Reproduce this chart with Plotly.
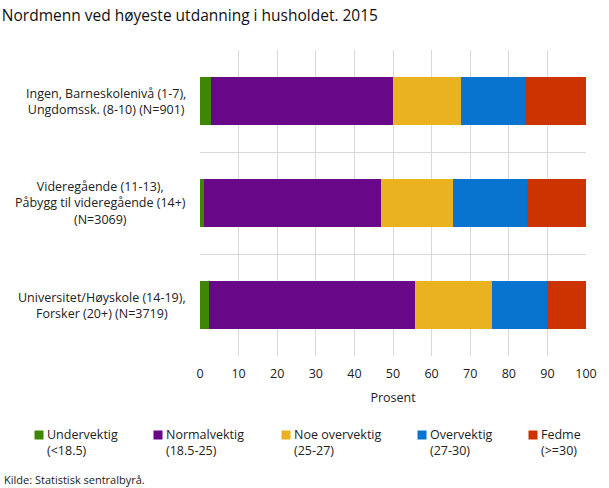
import plotly.graph_objects as go

# Data (prosent), lest av figuren
CATEGORIES = [
    "Ingen, Barneskolenivå (1-7),<br>Ungdomssk. (8-10) (N=901)",
    "Videregående (11-13),<br>Påbygg til videregående (14+)<br>(N=3069)",
    "Universitet/Høyskole (14-19),<br>Forsker (20+) (N=3719)",
]
SERIES = ["Undervektig", "Normalvektig", "Noe overvektig", "Overvektig", "Fedme"]
SERIES_RANGE = ["(&lt;18.5)", "(18.5-25)", "(25-27)", "(27-30)", "(&gt;=30)"]
UNDERVEKTIG = [2.8, 1.0, 2.4]
NORMALVEKTIG = [47.2, 45.9, 53.3]
NOE_OVERVEKTIG = [17.6, 18.6, 19.9]
OVERVEKTIG = [16.7, 19.2, 14.4]
FEDME = [15.7, 15.3, 10.0]
X_TICKS = [0, 10, 20, 30, 40, 50, 60, 70, 80, 90, 100]

COLORS = ["#3d8704", "#680787", "#ebb220", "#0874d0", "#cd3300"]
FONT = "Open Sans, DejaVu Sans, sans-serif"
TXT = "#222"

# plottområdet i piksler (for plassering av forklaring)
W, H = 609, 488
L, R, T, B = 200, 23, 50, 132
PW, PH = W - L - R, H - T - B
LEG_X = [34, 153, 281, 417, 528]   # venstre kant på fargeruten
LEG_Y = 435                         # midten av første linje


def px_x(px):
    return (px - L) / PW


def px_y(py):
    return (H - B - py) / PH


fig = go.Figure()
for name, vals, col in zip(SERIES,
                           [UNDERVEKTIG, NORMALVEKTIG, NOE_OVERVEKTIG, OVERVEKTIG, FEDME],
                           COLORS):
    fig.add_trace(go.Bar(
        y=list(range(len(CATEGORIES))), x=vals, name=name, orientation="h",
        marker=dict(color=col, line=dict(width=0)), showlegend=False,
        hovertemplate=name + ": %{x:.1f} %<extra></extra>",
    ))

# kategori-etiketter, sentrert som i originalen
for i, cat in enumerate(CATEGORIES):
    fig.add_annotation(
        x=0, xref="paper", y=i, yref="y", text=cat, showarrow=False,
        xanchor="right", align="center", xshift=-12,
        font=dict(family=FONT, size=12.5, color=TXT),
    )

# forklaring: liten fargerute + tekst på to linjer
for name, rng, col, lx in zip(SERIES, SERIES_RANGE, COLORS, LEG_X):
    fig.add_annotation(
        x=px_x(lx), xref="paper", y=px_y(LEG_Y), yref="paper", text=" ",
        showarrow=False, xanchor="left", yanchor="middle",
        width=8, height=8, bgcolor=col, borderpad=0,
    )
    fig.add_annotation(
        x=px_x(lx + 12), xref="paper", y=px_y(LEG_Y - 10), yref="paper",
        text=f"{name}<br>{rng}", showarrow=False, xanchor="left",
        yanchor="top", align="left", borderpad=0,
        font=dict(family=FONT, size=12.5, color=TXT),
    )

fig.add_annotation(
    x=px_x(2), xref="paper", y=px_y(480), yref="paper",
    text="Kilde: Statistisk sentralbyrå.", showarrow=False,
    xanchor="left", yanchor="middle",
    font=dict(family=FONT, size=11, color=TXT),
)

fig.update_layout(
    barmode="stack",
    bargap=0.52,
    width=W, height=H,
    margin=dict(l=L, r=R, t=T, b=B),
    paper_bgcolor="white", plot_bgcolor="white",
    font=dict(family=FONT, size=12, color=TXT),
    title=dict(text="Nordmenn ved høyeste utdanning i husholdet. 2015",
               x=0.003, xanchor="left", y=1 - 16 / H, yanchor="middle",
               font=dict(family=FONT, size=15.5, color="#111")),
    xaxis=dict(range=[0, 100], tickvals=X_TICKS, showgrid=True,
               gridcolor="#d9d9d9", gridwidth=1, zeroline=False,
               showline=False, ticks="", ticklabelstandoff=8,
               title=dict(text="Prosent", standoff=12,
                          font=dict(size=12.5, color=TXT)),
               tickfont=dict(size=12.5, color=TXT)),
    yaxis=dict(range=[2.5, -0.5], tickvals=[-0.5, 0.5, 1.5, 2.5],
               showticklabels=False, showgrid=True, gridcolor="#d9d9d9",
               zeroline=False, showline=False, ticks=""),
    showlegend=False,
)

fig.write_html("out.html", config={"displayModeBar": False},
               post_script="document.body.style.margin='0';")
